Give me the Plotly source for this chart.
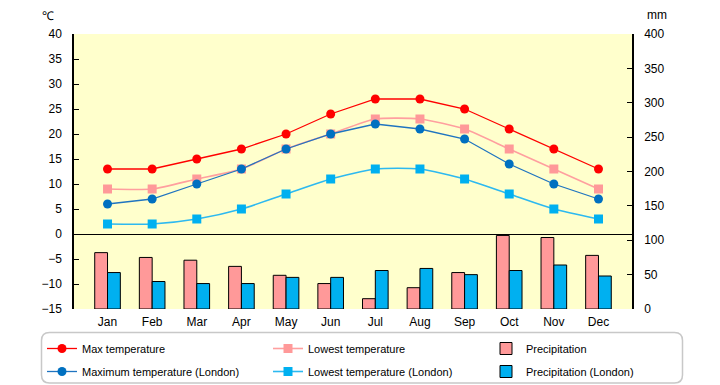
import plotly.graph_objects as go

months = ["Jan", "Feb", "Mar", "Apr", "May", "Jun", "Jul", "Aug", "Sep", "Oct", "Nov", "Dec"]
max_temp = [13, 13, 15, 17, 20, 24, 27, 27, 25, 21, 17, 13]
low_temp = [9, 9, 11, 13, 17, 20, 23, 23, 21, 17, 13, 9]
precip = [82, 75, 71, 62, 49, 37, 15, 31, 53, 107, 104, 78]
max_temp_london = [6, 7, 10, 13, 17, 20, 22, 21, 19, 14, 10, 7]
low_temp_london = [2, 2, 3, 5, 8, 11, 13, 13, 11, 8, 5, 3]
precip_london = [53, 40, 37, 37, 46, 46, 56, 59, 50, 56, 64, 48]

temp_ticks = list(range(-15, 41, 5))
precip_ticks = list(range(0, 401, 50))

FONT = "Liberation Sans, Arial, sans-serif"
W, H = 720, 385
ML, MR, MT, MB = 74, 88, 34, 76
PW = W - ML - MR
PH = H - MT - MB

def px_x(p):
    return (p - ML) / PW

def px_y(p):
    return (H - MB - p) / PH

fig = go.Figure()

fig.add_trace(go.Scatter(x=months, y=max_temp, name="Max temperature", yaxis="y2",
                         legend="legend", legendgroup="a",
                         mode="lines+markers", line=dict(color="#FF0000", width=1.3),
                         marker=dict(symbol="circle", size=9, color="#FF0000")))
fig.add_trace(go.Scatter(x=months, y=low_temp, name="Lowest temperature", yaxis="y2",
                         legend="legend2", legendgroup="c",
                         mode="lines+markers", line=dict(color="#FF9F9F", width=1.6, shape="spline", smoothing=0.6),
                         marker=dict(symbol="square", size=9, color="#FF9999")))
fig.add_trace(go.Bar(x=months, y=precip, name="Precipitation", yaxis="y",
                     legend="legend3", legendgroup="e",
                     marker=dict(color="#FF9999", line=dict(color="#000000", width=1))))
fig.add_trace(go.Scatter(x=months, y=max_temp_london, name="Maximum temperature (London)", yaxis="y2",
                         legend="legend", legendgroup="b",
                         mode="lines+markers", line=dict(color="#1F74C0", width=1.3),
                         marker=dict(symbol="circle", size=9, color="#0070C0")))
fig.add_trace(go.Scatter(x=months, y=low_temp_london, name="Lowest temperature (London)", yaxis="y2",
                         legend="legend2", legendgroup="d",
                         mode="lines+markers", line=dict(color="#2DB9F0", width=1.6, shape="spline", smoothing=0.6),
                         marker=dict(symbol="square", size=9, color="#00B0F0")))
fig.add_trace(go.Bar(x=months, y=precip_london, name="Precipitation (London)", yaxis="y",
                     legend="legend3", legendgroup="f",
                     marker=dict(color="#00B0F0", line=dict(color="#000000", width=1))))

# rounded legend frame
x0, x1 = px_x(41.5), px_x(682.5)
y0, y1 = px_y(332.5), px_y(383)
rx = 8 / PW
ry = 8 / PH
path = (f"M {x0+rx},{y0} L {x1-rx},{y0} Q {x1},{y0} {x1},{y0-ry} "
        f"L {x1},{y1+ry} Q {x1},{y1} {x1-rx},{y1} L {x0+rx},{y1} "
        f"Q {x0},{y1} {x0},{y1+ry} L {x0},{y0-ry} Q {x0},{y0} {x0+rx},{y0} Z")

def legend_at(xpx):
    return dict(orientation="v", x=px_x(xpx), y=px_y(334), xanchor="left", yanchor="top",
                bgcolor="rgba(0,0,0,0)", borderwidth=0, font=dict(family=FONT, size=11),
                traceorder="grouped", tracegroupgap=4, itemwidth=30)

fig.update_layout(
    width=W, height=H,
    margin=dict(l=ML, r=MR, t=MT, b=MB, pad=0, autoexpand=False),
    paper_bgcolor="#FFFFFF",
    plot_bgcolor="#FFFFCC",
    font=dict(family=FONT, size=12, color="#000000"),
    barmode="group", bargap=0.426, bargroupgap=0,
    showlegend=True,
    legend=legend_at(42),
    legend2=legend_at(268),
    legend3=legend_at(486),
    xaxis=dict(categoryorder="array", categoryarray=months, showline=False, ticks="",
               showgrid=False, zeroline=False, tickfont=dict(size=12), ticklabelstandoff=4),
    yaxis=dict(side="right", range=[0, 400], tickvals=precip_ticks, showgrid=False, zeroline=False,
               showline=True, linecolor="#000000", linewidth=1.5, ticks="inside", ticklen=5,
               tickcolor="#000000", tickfont=dict(size=12), ticklabelstandoff=8),
    yaxis2=dict(side="left", overlaying="y", range=[-15, 40], tickvals=temp_ticks, showgrid=False,
                zeroline=True, zerolinecolor="#000000", zerolinewidth=1.2,
                showline=True, linecolor="#000000", linewidth=1.5, ticks="inside", ticklen=5,
                tickcolor="#000000", tickfont=dict(size=12), ticklabelstandoff=8),
    shapes=[dict(type="path", xref="paper", yref="paper", path=path,
                 line=dict(color="#C8C8C8", width=1.5), fillcolor="rgba(0,0,0,0)", layer="below")],
    annotations=[
        dict(text="℃", xref="paper", yref="paper", x=px_x(48), y=px_y(16), showarrow=False,
             xanchor="center", yanchor="middle", font=dict(size=12)),
        dict(text="mm", xref="paper", yref="paper", x=px_x(657), y=px_y(15), showarrow=False,
             xanchor="center", yanchor="middle", font=dict(size=12)),
    ],
)

fig.write_html("out.html", config={"displayModeBar": False},
               post_script="document.body.style.margin='0';document.body.style.overflow='hidden';")
